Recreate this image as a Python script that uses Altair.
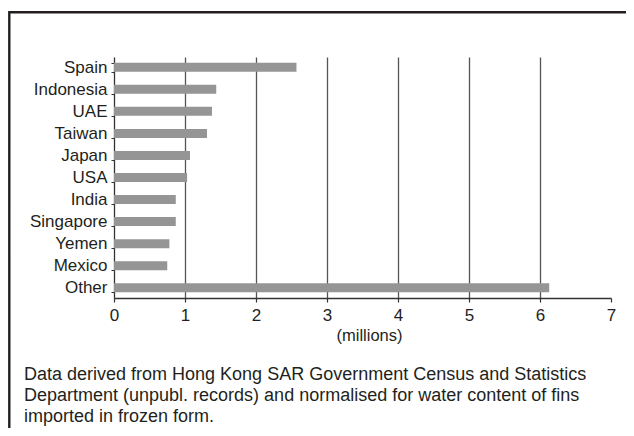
import altair as alt
import pandas as pd

countries = ["Spain", "Indonesia", "UAE", "Taiwan", "Japan", "USA", "India",
             "Singapore", "Yemen", "Mexico", "Other"]
values = [2.57, 1.44, 1.38, 1.31, 1.07, 1.03, 0.87, 0.87, 0.78, 0.75, 6.13]
x_ticks = [0, 1, 2, 3, 4, 5, 6, 7]
caption_lines = [
    "Data derived from Hong Kong SAR Government Census and Statistics",
    "Department (unpubl. records) and normalised for water content of fins",
    "imported in frozen form.",
]

FONT = "Liberation Sans"
TEXT = "#231f20"

df = pd.DataFrame({"country": countries, "value": values})

bars = alt.Chart(df).mark_bar(color="#959595").encode(
    x=alt.X(
        "value:Q",
        scale=alt.Scale(domain=[0, 7], nice=False, zero=True),
        axis=alt.Axis(
            values=x_ticks,
            format="d",
            title="(millions)",
            titleFont=FONT,
            titleFontSize=16.5,
            titleFontWeight="normal",
            titleColor=TEXT,
            titleX=255,
            titleY=37,
            titleBaseline="middle",
            labelFont=FONT,
            labelFontSize=17,
            labelColor=TEXT,
            labelPadding=5,
            labelFlush=False,
            tickSize=4,
            tickColor="#333333",
            tickWidth=1.2,
            domainColor="#333333",
            domainWidth=1.3,
            grid=True,
            gridColor="#555555",
            gridWidth=1.3,
            gridOpacity={"condition": {"test": "datum.value == 0 || datum.value == 7", "value": 0}, "value": 1},
        ),
    ),
    y=alt.Y(
        "country:N",
        sort=countries,
        scale=alt.Scale(paddingInner=0.59, paddingOuter=0.26),
        axis=alt.Axis(
            title=None,
            labelFont=FONT,
            labelFontSize=17,
            labelColor=TEXT,
            labelPadding=4,
            tickSize=3,
            tickBand="extent",
            tickColor="#333333",
            domainColor="#333333",
            domainWidth=1.3,
        ),
    ),
)

frame_df = pd.DataFrame({"k": [0]})
frame = alt.Chart(frame_df).mark_rect(
    filled=False, stroke="#231f20", strokeWidth=2.4, clip=False
).encode(
    x=alt.value(-104.7),
    x2=alt.value(700),
    y=alt.value(-44.8),
    y2=alt.value(600),
)

cap_df = pd.DataFrame({"caption": ["\n".join(caption_lines)]})
caption = alt.Chart(cap_df).mark_text(
    align="left", baseline="middle", font=FONT, fontSize=18,
    lineHeight=21, lineBreak="\n", color=TEXT, clip=False
).encode(
    x=alt.value(-90),
    y=alt.value(318),
    text="caption:N",
)

chart = alt.layer(frame, bars, caption).properties(
    width=497,
    height=241,
    background="white",
    autosize=alt.AutoSizeParams(type="none"),
    padding={"left": 106, "top": 49, "right": 15, "bottom": 130},
).configure_view(stroke=None)

chart.save("out.html", embed_options={"renderer": "svg", "actions": False})
